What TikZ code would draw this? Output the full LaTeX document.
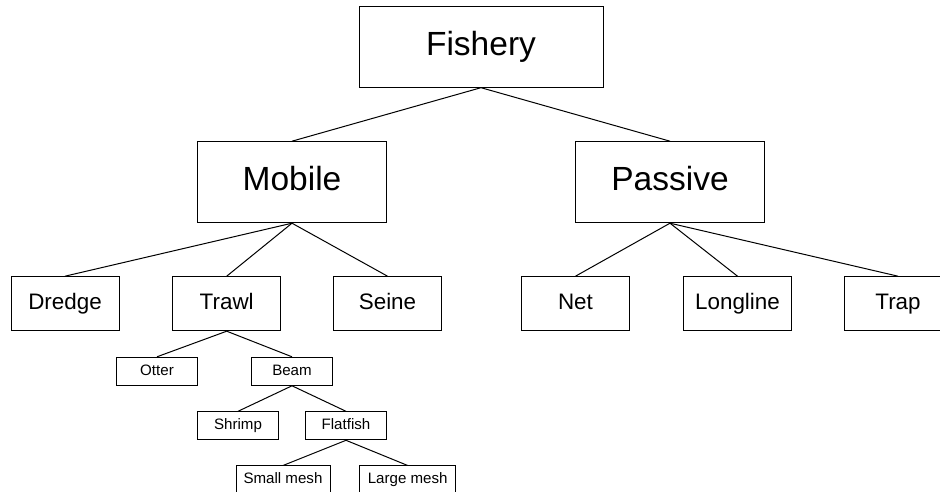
\documentclass[tikz,border=0pt]{standalone}
\usepackage{fontspec}
\setmainfont{Liberation Sans}
\tikzset{
  x=1pt,y=1pt,
  box/.style={draw=black,line width=1pt,inner sep=0pt,fill=white},
  bigbox/.style={box,minimum width=189pt,minimum height=81pt,font=\fontsize{33.5}{40}\selectfont,text height=24.1pt,text depth=7.2pt},
  midbox/.style={box,minimum width=108pt,minimum height=54pt,font=\fontsize{22.4}{27}\selectfont,text height=16.1pt,text depth=4.4pt},
  smallbox/.style={box,minimum width=81.5pt,minimum height=28pt,font=\fontsize{15.1}{18}\selectfont,text height=10.9pt,text depth=3.1pt},
  link/.style={draw=black,line width=1pt}
}
\begin{document}
\begin{tikzpicture}
\clip (0,0) rectangle (940,492);
\fill[white] (0,0) rectangle (940,492);
% nodes
\node[bigbox,minimum width=244pt] (fishery) at (481,445.3) {Fishery};
\node[bigbox] (mobile) at (292,309.8) {Mobile};
\node[bigbox] (passive) at (670,309.8) {Passive};
\node[midbox] (dredge) at (65,188.3) {Dredge};
\node[midbox] (trawl) at (226.7,188.3) {Trawl};
\node[midbox] (seine) at (387.5,188.3) {Seine};
\node[midbox] (net) at (575.5,188.3) {Net};
\node[midbox] (longline) at (737.5,188.3) {Longline};
\node[midbox] (trap) at (898,188.3) {Trap};
\node[smallbox] (otter) at (157,120.7) {Otter};
\node[smallbox] (beam) at (292,120.7) {Beam};
\node[smallbox] (shrimp) at (238,66.2) {Shrimp};
\node[smallbox] (flatfish) at (346,66.2) {Flatfish};
\node[smallbox,minimum width=94pt] (smallmesh) at (283,12) {Small mesh};
\node[smallbox,minimum width=96.5pt] (largemesh) at (407.7,12) {Large mesh};
% connectors
\draw[link] (fishery.south) -- (mobile.north);
\draw[link] (fishery.south) -- (passive.north);
\draw[link] (mobile.south) -- (dredge.north);
\draw[link] (mobile.south) -- (trawl.north);
\draw[link] (mobile.south) -- (seine.north);
\draw[link] (passive.south) -- (net.north);
\draw[link] (passive.south) -- (longline.north);
\draw[link] (passive.south) -- (trap.north);
\draw[link] (trawl.south) -- (otter.north);
\draw[link] (trawl.south) -- (beam.north);
\draw[link] (beam.south) -- (shrimp.north);
\draw[link] (beam.south) -- (flatfish.north);
\draw[link] (flatfish.south) -- (smallmesh.north);
\draw[link] (flatfish.south) -- (largemesh.north);
\end{tikzpicture}
\end{document}
